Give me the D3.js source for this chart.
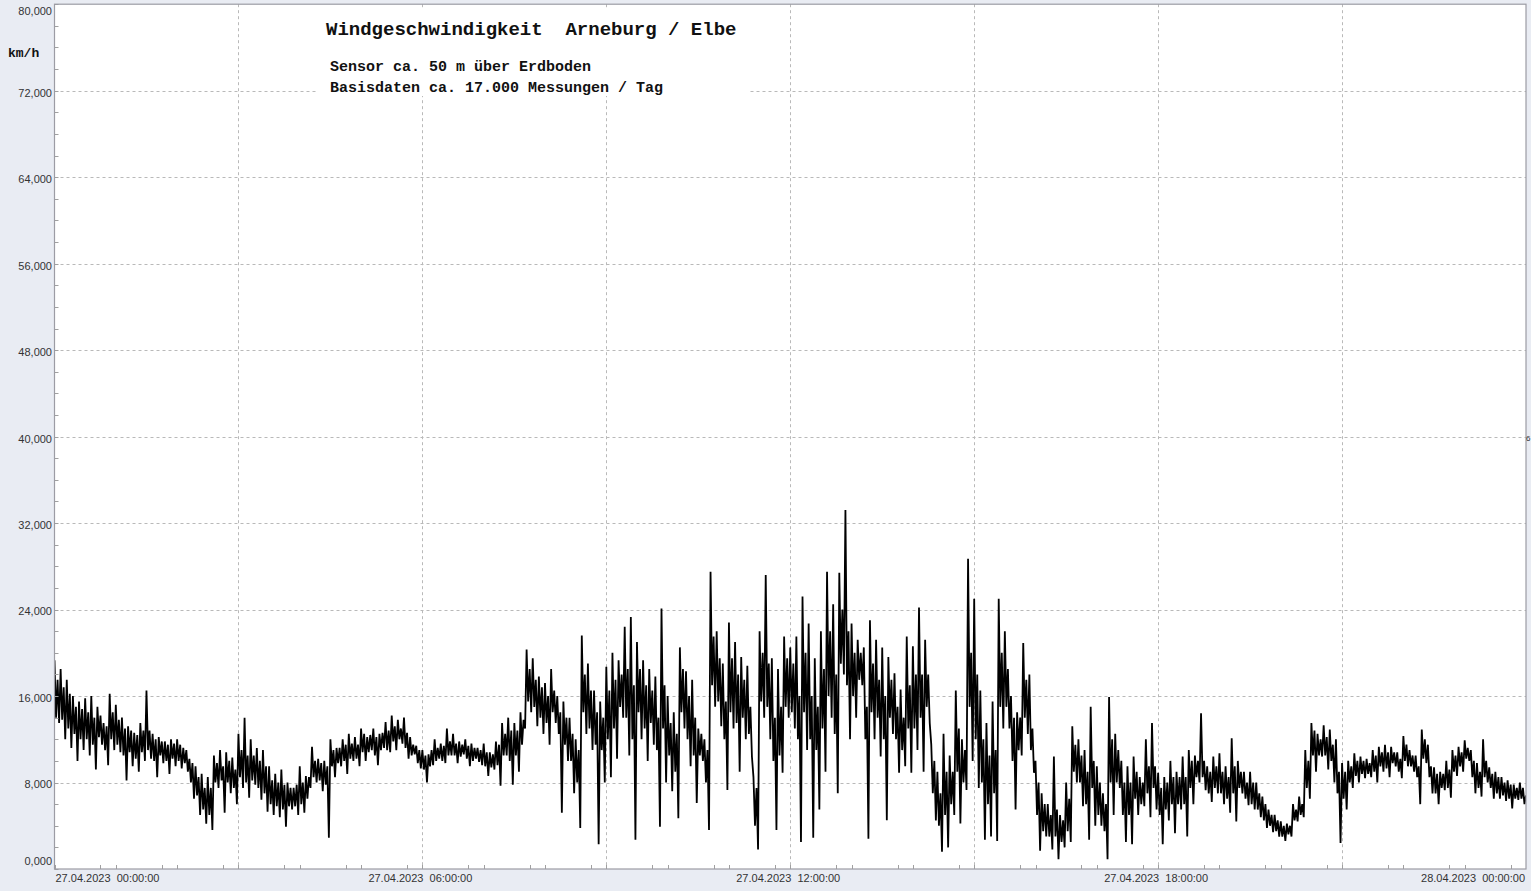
<!DOCTYPE html>
<html><head><meta charset="utf-8">
<script src="https://cdn.jsdelivr.net/npm/d3@7"></script>
<style>
html,body{margin:0;padding:0;background:#e9ecf3;overflow:hidden}
svg{display:block}
</style></head><body>
<svg id="c" width="1531" height="891"></svg>
<script>
// ---------- data ----------
const startTime = new Date(2023, 3, 27, 0, 0, 0);
const endTime = new Date(2023, 3, 28, 0, 0, 0);
const rowMinutes = 30;   // each row of windSpeedRows covers half an hour
const yTickValues = [0, 8, 16, 24, 32, 40, 48, 56, 64, 72, 80];
const xLabelHours = [0, 6, 12, 18, 24];
const xLabels = ["27.04.2023  00:00:00", "27.04.2023  06:00:00", "27.04.2023  12:00:00", "27.04.2023  18:00:00", "28.04.2023  00:00:00"];
const titleText = "Windgeschwindigkeit  Arneburg / Elbe";
const subtitleLines = ["Sensor ca. 50 m über Erdboden", "Basisdaten ca. 17.000 Messungen / Tag"];
const unitLabel = "km/h";
// wind speed in km/h, one row per half hour
const windSpeedRows = [
[19.3,14.0,17.5,13.5,18.5,13.8,16.8,12.0,17.5,13.0,16.2,11.2,16.0,12.5,15.0,10.0,15.5,12.0,14.8,11.0],
[15.8,12.0,14.5,10.5,16.0,11.5,14.0,9.2,15.0,12.2,14.2,11.5,13.5,11.0,13.2,9.6,16.2,12.0,14.5,11.0],
[15.2,11.5,13.8,10.8,14.0,10.5,13.0,8.2,13.2,10.8,12.8,9.5,12.6,10.2,12.4,9.0,13.5,10.8,12.8,10.0],
[16.5,11.0,12.8,10.2,12.5,10.0,12.0,8.5,12.2,10.5,11.8,9.8,11.8,10.0,11.5,8.8,12.0,10.2,11.6,9.5],
[12.0,10.0,11.5,9.3,11.2,9.8,11.0,9.0,10.2,8.0,9.8,6.5,9.5,6.8,8.5,5.0,8.8,5.5,7.5,4.2],
[8.5,5.0,7.5,3.6,10.5,8.0,9.8,7.5,11.0,8.2,9.5,5.2,10.8,8.0,10.0,7.0,10.3,7.5,9.2,6.0],
[12.5,8.5,11.0,7.5,14.0,8.0,10.5,6.6,12.0,8.2,10.5,7.8,11.2,7.5,10.0,6.4,11.0,7.0,9.5,5.3],
[9.5,6.0,8.2,5.0,8.8,5.8,8.0,4.8,9.2,5.5,7.8,3.9,8.0,5.8,7.5,5.5,7.5,5.8,7.8,5.0],
[9.5,6.0,8.0,5.2,8.6,6.5,8.5,7.5,11.3,8.5,10.0,8.0,10.2,8.2,9.8,7.2,10.0,7.8,9.5,2.9],
[12.0,9.5,11.0,8.5,11.2,9.8,11.2,9.5,12.0,10.0,11.5,8.8,12.5,10.2,11.6,10.0,12.2,10.2,11.5,9.5],
[13.0,10.8,12.5,10.0,12.2,10.8,12.4,11.0,13.0,10.5,12.2,9.6,12.5,11.0,12.6,11.2,13.6,11.0,12.8,10.8],
[14.2,11.8,13.2,11.0,13.8,12.0,13.0,11.6,14.0,11.2,12.6,10.2,12.2,10.5,11.5,10.6,11.4,9.8,11.0,9.3],
[11.0,9.2,10.5,8.0,10.6,9.5,11.0,9.6,12.0,10.0,11.2,10.2,11.6,10.0,11.4,9.8,13.0,10.5,11.8,10.5],
[12.5,10.5,11.6,9.8,11.8,10.4,11.5,10.6,12.0,10.2,11.4,9.5,11.6,10.0,11.2,10.2,11.2,9.9,11.0,9.6],
[11.6,9.5,10.8,8.6,10.8,9.4,10.6,9.2,11.8,9.6,11.5,7.7,13.5,10.5,12.5,10.5,14.0,10.0,12.8,7.8],
[13.5,10.5,12.8,9.0,14.5,11.5,13.8,13.0,20.3,15.5,18.5,14.5,19.5,15.0,17.5,13.2,17.8,14.0,16.8,12.5],
[17.2,13.5,16.0,11.5,18.5,14.5,16.5,13.5,16.0,12.5,14.5,5.2,15.5,11.5,14.0,10.0,14.0,10.0,12.5,7.0],
[12.0,8.0,11.0,3.8,21.6,14.5,18.0,12.5,19.0,13.0,16.5,11.0,16.5,11.5,14.5,2.3,15.5,11.0,14.0,8.0],
[18.7,12.0,16.5,8.5,20.0,13.0,17.5,10.2,19.3,15.0,18.0,14.0,22.4,14.0,18.5,10.5,23.3,12.0,17.0,2.7],
[21.0,14.5,18.5,12.0,19.3,13.0,17.0,10.0,18.5,13.5,16.5,11.5,17.8,11.0,14.0,3.9,24.1,13.0,17.0,8.0],
[16.0,10.5,13.5,7.2,14.5,9.0,12.5,4.7,20.5,14.5,18.5,13.0,18.3,12.0,16.0,9.5,17.5,10.5,14.0,6.1],
[13.0,10.5,12.5,10.0,12.0,8.0,11.0,3.6,27.5,17.0,21.5,15.0,22.0,15.5,19.5,13.2,19.0,12.0,15.5,7.3],
[22.8,14.5,19.5,13.0,21.0,13.5,18.0,9.0,19.6,14.0,17.5,12.0,18.8,12.5,15.0,10.4,8.5,4.0,7.5,1.8],
[22.0,15.5,20.0,14.0,27.2,15.0,19.0,12.0,19.5,10.0,14.0,3.6,18.5,10.5,15.0,8.9,21.5,15.0,19.5,14.0],
[20.5,14.5,19.0,13.0,21.5,12.0,16.0,2.5,25.2,14.5,20.0,11.0,22.7,12.0,16.0,2.9,19.5,11.0,15.0,5.5],
[22.0,13.0,18.5,9.0,27.5,16.0,22.0,14.0,24.5,12.5,18.0,7.0,27.4,19.0,24.0,18.0,33.2,17.0,22.0,12.0],
[22.7,16.0,20.0,14.0,21.2,17.5,20.0,17.0,20.5,12.0,15.0,2.8,23.0,14.5,19.0,12.0,21.2,14.0,17.5,10.4],
[20.5,12.0,16.0,4.5,19.6,14.0,17.5,12.5,18.1,12.0,15.0,8.9,16.6,11.0,14.0,9.5,21.5,13.0,17.0,8.9],
[20.6,13.0,18.0,11.0,24.2,14.0,18.0,9.0,21.2,15.0,18.0,13.5,11.5,7.0,10.0,4.5,9.0,4.0,7.0,1.6],
[12.5,5.0,9.0,2.0,10.5,6.0,9.0,5.0,16.5,9.0,13.0,4.2,12.0,8.0,11.0,7.3,28.7,15.0,20.0,10.0],
[25.0,12.0,18.0,7.5,16.5,8.0,12.0,2.7,13.5,6.0,10.5,3.0,15.5,7.0,11.0,2.6,25.0,15.0,20.0,13.0],
[22.0,15.0,18.5,13.0,16.0,10.0,14.0,5.5,14.5,11.0,14.0,10.5,20.9,14.0,17.5,12.5,18.0,11.0,13.0,8.9],
[10.0,5.0,8.0,1.7,7.0,3.5,6.0,3.0,6.0,3.0,5.0,1.8,10.4,3.0,5.5,0.9,5.0,2.5,4.5,2.0],
[8.0,3.5,6.5,2.5,13.2,9.0,11.5,8.0,12.0,8.0,10.5,5.8,11.0,6.0,9.0,2.7,15.0,7.5,10.0,4.0],
[9.5,5.0,8.0,4.0,7.0,3.5,6.0,0.9,15.9,8.0,12.0,5.0,12.5,8.0,11.0,7.5,10.0,5.0,8.0,2.5],
[9.5,5.0,8.0,2.3,10.4,6.5,9.0,5.0,8.5,6.0,8.0,5.8,12.0,7.0,9.5,4.8,13.5,7.5,9.5,5.5],
[8.9,5.0,7.5,2.3,8.5,5.5,8.0,4.5,10.0,6.0,8.5,3.3,9.0,6.0,8.5,5.5,10.4,6.0,8.5,3.0],
[11.0,7.5,10.0,6.0,10.5,8.5,10.0,8.0,14.4,8.5,10.0,7.3,9.5,7.0,9.0,6.2,10.4,7.5,9.5,7.0],
[10.7,7.0,9.0,6.0,9.5,6.5,8.5,5.2,12.1,7.0,9.5,4.4,10.0,7.5,9.0,7.0,9.0,6.5,8.0,5.9],
[9.0,6.0,8.0,5.5,8.0,5.5,7.0,4.8,6.7,4.5,6.0,3.8,5.5,4.0,5.0,3.4,5.0,3.5,4.5,3.0],
[4.4,3.0,4.0,2.6,4.2,3.2,4.0,3.0,6.0,4.5,5.5,4.4,6.7,5.0,6.0,4.8,11.0,7.5,10.0,6.5],
[13.5,10.5,12.8,9.0,12.5,10.5,12.0,10.4,13.3,10.5,12.2,9.2,12.9,10.0,11.5,8.0,12.0,7.0,9.0,2.4],
[9.8,6.5,9.0,5.5,10.0,8.0,9.5,7.5,10.7,8.6,10.0,8.0,10.4,8.8,10.0,8.4,10.2,8.8,9.8,8.5],
[11.0,9.0,10.5,8.0,11.3,9.5,10.8,9.0,11.5,9.3,10.8,8.5,11.3,9.8,10.8,9.5,10.8,9.0,10.2,8.4],
[12.3,10.0,11.5,9.5,11.0,9.5,10.5,9.0,10.5,8.5,9.5,6.0,12.9,10.2,12.0,9.8,11.5,8.5,9.5,7.0],
[9.4,7.0,8.8,6.0,9.0,7.5,8.8,7.3,10.0,7.5,9.2,6.6,11.0,9.0,10.5,8.6,11.3,9.5,10.8,9.0],
[11.9,10.2,11.2,10.0,11.0,8.5,10.0,7.0,9.8,7.5,9.0,6.7,12.0,8.5,10.0,8.0,9.4,7.5,8.8,6.5],
[9.0,7.0,8.5,6.5,8.5,6.8,8.0,6.3,8.2,6.5,7.8,5.6,7.8,6.5,7.5,6.4,8.0,6.5,7.5,6.0],
[6.8]
];

// ---------- layout ----------
const svg = d3.select("#c");
const L = 54.5, R = 1526, T = 4.2, B = 869;
const x = d3.scaleTime().domain([startTime, endTime]).range([L, R]);
const y = d3.scaleLinear().domain([0, 80]).range([B, T]);
const hourTime = h => new Date(startTime.getTime() + h * 3600e3);
const fmtY = v => d3.format(".3f")(v).replace(".", ",");

// flatten rows into timed points
const points = windSpeedRows.flatMap((row, k) => row.map((v, j) => ({
  t: new Date(startTime.getTime() + (k * rowMinutes + j * rowMinutes / row.length) * 60e3),
  v: v
})));

svg.append("rect").attr("x", 0).attr("y", 0).attr("width", 1531).attr("height", 891).attr("fill", "#e9ecf3");
svg.append("rect").attr("x", L).attr("y", T).attr("width", R - L).attr("height", B - T).attr("fill", "#ffffff");

// grid
const grid = svg.append("g").attr("stroke", "#b9b9b9").attr("stroke-width", 1).attr("stroke-dasharray", "3,3");
grid.selectAll("line.h").data(yTickValues.filter(v => v > 0 && v < 80)).join("line")
  .attr("x1", L).attr("x2", R).attr("y1", d => Math.round(y(d)) + 0.5).attr("y2", d => Math.round(y(d)) + 0.5);
grid.selectAll("line.v").data(d3.timeHour.every(3).range(hourTime(3), endTime)).join("line")
  .attr("x1", d => Math.round(x(d)) + 0.5).attr("x2", d => Math.round(x(d)) + 0.5).attr("y1", T).attr("y2", B);

// title box
svg.append("rect").attr("x", 318).attr("y", 8).attr("width", 430).attr("height", 88).attr("fill", "#ffffff");
const mono = "'Liberation Mono','Courier New',monospace";
svg.append("text").attr("x", 326).attr("y", 35).attr("font-family", mono).attr("font-weight", "bold")
  .attr("font-size", 19).style("white-space", "pre").attr("fill", "#111").text(titleText);
svg.selectAll("text.sub").data(subtitleLines).join("text").attr("class", "sub")
  .attr("x", 330).attr("y", (d, i) => 71 + i * 21).attr("font-family", mono).attr("font-weight", "bold")
  .attr("font-size", 15).attr("fill", "#111").text(d => d);

// data line
svg.append("clipPath").attr("id", "clip").append("rect").attr("x", L).attr("y", T).attr("width", R - L).attr("height", B - T);
const line = d3.line().x(d => x(d.t)).y(d => y(d.v));
svg.append("path").datum(points).attr("clip-path", "url(#clip)")
  .attr("fill", "none").attr("stroke", "#000").attr("stroke-width", 1.8).attr("stroke-linejoin", "bevel")
  .attr("d", line);

// minor y ticks
svg.append("g").attr("stroke", "#a0a0a0").selectAll("line").data(d3.range(0, 81, 2)).join("line")
  .attr("x1", L).attr("x2", L + 4).attr("y1", d => Math.round(y(d)) + 0.5).attr("y2", d => Math.round(y(d)) + 0.5);
// x ticks every 45 min
svg.append("g").attr("stroke", "#a0a0a0").selectAll("line").data(d3.timeMinute.every(45).range(startTime, endTime)).join("line")
  .attr("x1", d => Math.round(x(d)) + 0.5).attr("x2", d => Math.round(x(d)) + 0.5).attr("y1", B).attr("y2", B - 4);

// border
svg.append("rect").attr("x", L).attr("y", T).attr("width", R - L).attr("height", B - T)
  .attr("fill", "none").attr("stroke", "#9c9ca4").attr("stroke-width", 1.2);

// y labels
const sans = "'Liberation Sans', Arial, sans-serif";
svg.selectAll("text.yl").data(yTickValues).join("text").attr("class", "yl")
  .attr("x", 52).attr("y", d => Math.min(862, Math.max(12, y(d) + 3)))
  .attr("text-anchor", "end").attr("dominant-baseline", "middle")
  .attr("font-family", sans).attr("font-size", 11).attr("fill", "#333").text(fmtY);

// x labels
svg.selectAll("text.xl").data(xLabelHours).join("text").attr("class", "xl")
  .attr("x", (d, i) => i === 0 ? L + 1 : (i === xLabelHours.length - 1 ? R - 1 : x(hourTime(d)) - 2))
  .attr("y", 882)
  .attr("text-anchor", (d, i) => i === 0 ? "start" : (i === xLabelHours.length - 1 ? "end" : "middle"))
  .attr("font-family", sans).attr("font-size", 11).attr("fill", "#333").style("white-space", "pre")
  .text((d, i) => xLabels[i]);

// unit label
svg.append("text").attr("x", 8).attr("y", 57).attr("font-family", mono).attr("font-weight", "bold")
  .attr("font-size", 13).attr("fill", "#111").text(unitLabel);
// small right-edge label
svg.append("text").attr("x", 1526).attr("y", 441).attr("font-family", sans).attr("font-size", 8).attr("fill", "#333").text("6");
</script>
</body></html>
